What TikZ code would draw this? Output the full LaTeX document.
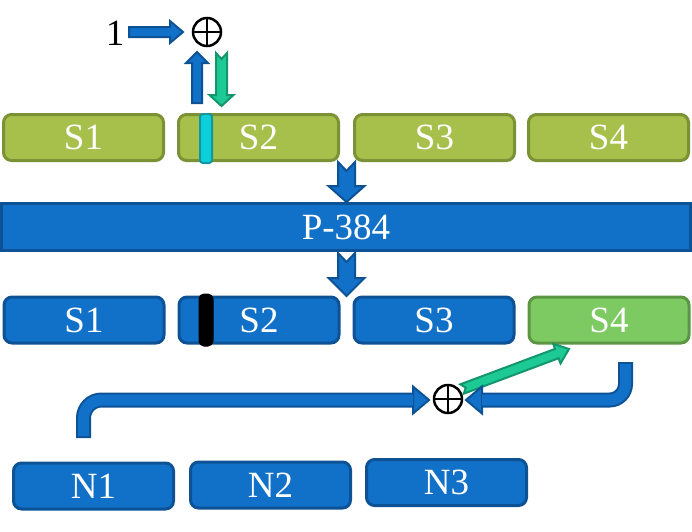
\documentclass[tikz,border=0pt]{standalone}
\usepackage{fontspec}
\setmainfont{Liberation Serif}
\usetikzlibrary{calc}
\definecolor{olivefill}{RGB}{166,192,75}
\definecolor{olivebd}{RGB}{122,145,52}
\definecolor{bluefill}{RGB}{17,112,199}
\definecolor{bluebd}{RGB}{14,82,150}
\definecolor{lgfill}{RGB}{125,201,98}
\definecolor{lgbd}{RGB}{92,150,68}
\definecolor{emfill}{RGB}{29,201,149}
\definecolor{embd}{RGB}{19,150,108}
\definecolor{cyfill}{RGB}{13,207,217}
\definecolor{cybd}{RGB}{19,150,160}
% block arrow: style, start, end, half shaft, half head, head length, notch
\newcommand\barrow[7]{\filldraw[#1] ($(#2)!#4!90:(#3)$) -- ($($(#3)!#6!(#2)$)!#4!90:(#3)$) -- ($($(#3)!#6!(#2)$)!#5!90:(#3)$) -- (#3) -- ($($(#3)!#6!(#2)$)!#5!-90:(#3)$) -- ($($(#3)!#6!(#2)$)!#4!-90:(#3)$) -- ($(#2)!#4!-90:(#3)$) -- ($(#2)!#7!(#3)$) -- cycle;}
\tikzset{
  box/.style={rounded corners=8pt, line width=3pt, minimum width=160pt, minimum height=46pt, inner sep=0pt, text=white, font=\fontsize{37pt}{40pt}\selectfont},
  olivebox/.style={box, fill=olivefill, draw=olivebd},
  bluebox/.style={box, fill=bluefill, draw=bluebd},
  lgbox/.style={box, fill=lgfill, draw=lgbd},
  bluearrow/.style={fill=bluefill, draw=bluebd, line width=2pt},
  emarrow/.style={fill=emfill, draw=embd, line width=2pt},
  opl/.style={circle, draw=black, line width=2.5pt, minimum size=28pt, inner sep=0pt,
    path picture={\draw[line width=2pt] (path picture bounding box.north) -- (path picture bounding box.south)
      (path picture bounding box.west) -- (path picture bounding box.east);}},
}
\begin{document}
\begin{tikzpicture}[x=1pt,y=-1pt]
\useasboundingbox (0,0) rectangle (692,531);
% top row
\node[olivebox] (t1) at (83.5,137.5) {S1};
\node[olivebox] (t2) at (258.5,137.5) {S2};
\node[olivebox] (t3) at (434.5,137.5) {S3};
\node[olivebox] (t4) at (608.5,137.5) {S4};
\draw[fill=cyfill, draw=cybd, line width=2pt, rounded corners=3pt] (200,114) rectangle (212,163);
% P-384
\node[box, rounded corners=0pt, fill=bluefill, draw=bluebd, minimum width=689pt, minimum height=47pt] (p) at (346,227) {P-384};
% middle row
\node[bluebox] (m1) at (84,320) {S1};
\node[bluebox] (m2) at (259,320) {S2};
\node[bluebox] (m3) at (434,320) {S3};
\node[lgbox] (m4) at (609,320) {S4};
\draw[fill=black, draw=black, line width=1pt, rounded corners=5pt] (199,294) rectangle (213,346);
% bottom row
\node[bluebox] (n1) at (93.5,486) {N1};
\node[bluebox] (n2) at (270.5,485) {N2};
\node[bluebox] (n3) at (446.5,482.5) {N3};
% top oplus and 1
\node[font=\fontsize{37pt}{40pt}\selectfont, inner sep=0pt] (one) at (115,33) {1};
\node[opl] (ot) at (207,32) {};
\coordinate (a1s) at (129,32); \coordinate (a1e) at (183,32);
\barrow{bluearrow}{a1s}{a1e}{5pt}{11pt}{13pt}{0pt}
\coordinate (upS) at (197,103); \coordinate (upE) at (197,52);
\barrow{bluearrow}{upS}{upE}{5pt}{11pt}{11pt}{0pt}
\coordinate (dnS) at (221.5,53); \coordinate (dnE) at (221.5,106);
\barrow{emarrow}{dnS}{dnE}{5.5pt}{12pt}{11pt}{6pt}
% down arrows
\coordinate (d1s) at (346.5,162); \coordinate (d1e) at (346.5,202);
\barrow{bluearrow}{d1s}{d1e}{8.5pt}{18pt}{16pt}{9pt}
\coordinate (d2s) at (346.5,253); \coordinate (d2e) at (346.5,296);
\barrow{bluearrow}{d2s}{d2e}{8.5pt}{18pt}{18pt}{9pt}
% bottom oplus
\node[opl] (ob) at (448,399) {};
% green arrow to S4
\coordinate (gs) at (462,389); \coordinate (ge) at (569,349);
\barrow{emarrow}{gs}{ge}{5pt}{10.5pt}{13pt}{4pt}
% left bent arrow
\coordinate (lb0) at (83.5,438); \coordinate (lbh) at (413,400); \coordinate (lbt) at (429,400);
\draw[bluebd, line width=15pt, rounded corners=18pt] (lb0) |- (lbh);
\filldraw[bluearrow] ($(lbh)+(0,-13.5)$) -- (lbt) -- ($(lbh)+(0,13.5)$) -- cycle;
\draw[bluefill, line width=11pt, rounded corners=18pt] ($(lb0)+(0,-2)$) |- (lbh);
% right bent arrow
\coordinate (rb0) at (625.5,362); \coordinate (rbh) at (482,400); \coordinate (rbt) at (466,400);
\draw[bluebd, line width=15pt, rounded corners=16pt] (rb0) |- (rbh);
\filldraw[bluearrow] ($(rbh)+(0,-13.5)$) -- (rbt) -- ($(rbh)+(0,13.5)$) -- cycle;
\draw[bluefill, line width=11pt, rounded corners=16pt] ($(rb0)+(0,2)$) |- (rbh);
\end{tikzpicture}
\end{document}
